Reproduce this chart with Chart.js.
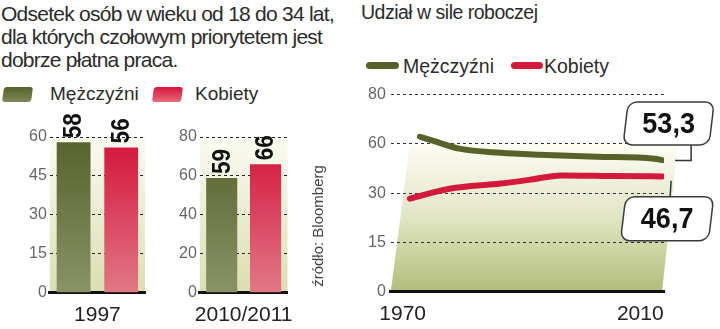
<!DOCTYPE html>
<html lang="pl">
<head>
<meta charset="utf-8">
<script src="https://cdn.jsdelivr.net/npm/chart.js@4.4.1/dist/chart.umd.min.js"></script>
<style>
  html, body { margin: 0; padding: 0; background: #fff; }
  #page { position: relative; width: 720px; height: 329px; overflow: hidden;
          font-family: "Liberation Sans", Arial, sans-serif; color: #2b2b2b; }
  .abs { position: absolute; white-space: nowrap; }
  #title { left: 1px; top: 2px; font-size: 21px; line-height: 23px; letter-spacing: -0.75px; }
  #header { left: 361px; top: 3px; font-size: 19.5px; line-height: 19.5px; letter-spacing: -0.5px; }
  .legend { font-size: 19px; line-height: 19px; }
  .swatch { position: absolute; width: 29px; height: 15px; border-radius: 3px; transform: skewX(-8deg); }
  .sw-men { background: linear-gradient(#56622a, #7d8757); }
  .sw-women { background: linear-gradient(#d8153c, #e56a7a); }
  .stroke { position: absolute; height: 7px; border-radius: 4px; }
  #source { left: 317px; top: 226px; font-size: 15px; line-height: 15px; color: #444;
            transform: translate(-50%, -50%) rotate(-90deg); }
  canvas { position: absolute; }
</style>
</head>
<body>
<div id="page">
  <div id="title" class="abs">Odsetek osób w wieku od 18 do 34 lat,<br>dla których czołowym priorytetem jest<br>dobrze płatna praca.</div>

  <div class="swatch sw-men" style="left:3px; top:87px;"></div>
  <div class="abs legend" style="left:50px; top:84px;">Mężczyźni</div>
  <div class="swatch sw-women" style="left:153px; top:87px;"></div>
  <div class="abs legend" style="left:195px; top:84px;">Kobiety</div>

  <div id="header" class="abs">Udział w sile roboczej</div>
  <div class="stroke" style="left:366px; top:62px; width:33px; background:#56622a;"></div>
  <div class="abs legend" style="left:403px; top:57px; font-size:19.5px;">Mężczyźni</div>
  <div class="stroke" style="left:511px; top:62px; width:32px; background:#d31a3d;"></div>
  <div class="abs legend" style="left:544px; top:57px; font-size:19.5px;">Kobiety</div>

  <canvas id="bars1997" width="160" height="236" style="left:0; top:105px;"></canvas>
  <canvas id="bars2011" width="160" height="236" style="left:150px; top:105px;"></canvas>
  <div id="source" class="abs">źródło: Bloomberg</div>
  <canvas id="share" width="365" height="261" style="left:355px; top:80px;"></canvas>
</div>

<script>
// Odsetek osób 18-34 lat: dobrze płatna praca jako priorytet
const seriesNames = ['Mężczyźni', 'Kobiety'];
const period1 = ['1997'];
const men1 = [58];
const women1 = [56];
const ticks1 = [0, 15, 30, 45, 60];
const period2 = ['2010/2011'];
const men2 = [59];
const women2 = [66];
const ticks2 = [0, 20, 40, 60, 80];

// Udział w sile roboczej (%)
const menYears = [1972.9, 1975.6, 1979.5, 1986.5, 1993, 2002.7, 2012.4, 2013.7];
const menShare = [62.9, 60.9, 58.1, 56.4, 55.6, 54.8, 54.0, 53.4];
const womenYears = [1971.2, 1977.9, 1986.5, 1991.3, 1996.7, 2005, 2013.7];
const womenShare = [37.8, 41.8, 43.9, 45.4, 47.2, 47.0, 46.8];
const lastYear = 2015.2;
const lastShare = [53.3, 46.7];
const shareTicks = [0, 20, 40, 60, 80];
const shareTickLabels = ['0', '15', '30', '60', '80'];
const yearTicks = [1970, 2010];

const FONT = '"Liberation Sans", Arial, sans-serif';
const MEN = '#56622a';
const WOMEN = '#d31a3d';

function vGrad(chart, top, bottom) {
  const a = chart.chartArea;
  if (!a) return top;
  const g = chart.ctx.createLinearGradient(0, a.top, 0, a.bottom);
  g.addColorStop(0, top);
  g.addColorStop(1, bottom);
  return g;
}

function fmt(v) {
  return v.toFixed(1).replace('.', ',');
}

// light panel behind the bars
const barPanel = {
  id: 'barPanel',
  beforeDraw(chart) {
    const a = chart.chartArea, ctx = chart.ctx;
    ctx.save();
    ctx.fillStyle = vGrad(chart, '#fbfbf2', '#d9dfb0');
    ctx.fillRect(a.left, a.top, a.right - a.left, a.bottom - a.top);
    ctx.restore();
  }
};

// rotated value above each bar
const barValues = {
  id: 'barValues',
  afterDraw(chart) {
    const ctx = chart.ctx;
    chart.data.datasets.forEach((ds, i) => {
      chart.getDatasetMeta(i).data.forEach((bar, j) => {
        ctx.save();
        ctx.translate(bar.x, bar.y - 4);
        ctx.rotate(-Math.PI / 2);
        ctx.scale(0.9, 1);
        ctx.font = 'bold 25px ' + FONT;
        ctx.textAlign = 'left';
        ctx.textBaseline = 'middle';
        ctx.fillStyle = '#111';
        ctx.fillText(String(ds.data[j]), 0, 1);
        ctx.restore();
      });
    });
  }
};

function barChart(id, labels, men, women, ticks) {
  return new Chart(document.getElementById(id), {
    type: 'bar',
    data: {
      labels: labels,
      datasets: [
        { label: seriesNames[0], data: men, backgroundColor: c => vGrad(c.chart, '#56612a', '#8a9368') },
        { label: seriesNames[1], data: women, backgroundColor: c => vGrad(c.chart, '#d4123a', '#e27884') }
      ]
    },
    options: {
      responsive: false,
      animation: false,
      layout: { padding: { left: 26, right: 15, top: 32, bottom: 3 } },
      datasets: { bar: { categoryPercentage: 1, barPercentage: 0.71 } },
      plugins: { legend: { display: false }, tooltip: { enabled: false } },
      scales: {
        x: {
          grid: { display: false, drawTicks: false },
          border: { color: '#111', width: 3 },
          ticks: { color: '#222', padding: 10, font: { size: 21, family: FONT } }
        },
        y: {
          min: 0,
          max: ticks[ticks.length - 1],
          z: 1,
          afterBuildTicks: s => { s.ticks = ticks.map(v => ({ value: v })); },
          grid: { color: '#222', drawTicks: false },
          border: { display: false, dash: [3, 3] },
          ticks: { color: '#666', padding: 3, font: { size: 16, family: FONT } }
        }
      }
    },
    plugins: [barPanel, barValues]
  });
}

barChart('bars1997', period1, men1, women1, ticks1);
barChart('bars2011', period2, men2, women2, ticks2);

// slanted panel under the lines, from the 60 line down to the base
const sharePanel = {
  id: 'sharePanel',
  beforeDraw(chart) {
    const a = chart.chartArea, ctx = chart.ctx;
    const top = chart.scales.y.getPixelForValue(60);
    const g = ctx.createLinearGradient(0, top, 0, a.bottom);
    g.addColorStop(0, '#fdfcf3');
    g.addColorStop(0.5, '#e1e5c3');
    g.addColorStop(1, '#b2bd79');
    ctx.save();
    ctx.beginPath();
    ctx.moveTo(a.left + 19, top);
    ctx.lineTo(a.right + 14, top);
    ctx.lineTo(a.right - 2, a.bottom);
    ctx.lineTo(a.left, a.bottom);
    ctx.closePath();
    ctx.fillStyle = g;
    ctx.fill();
    ctx.restore();
  }
};

function drawBox(ctx, cx, cy, w, h, text) {
  ctx.save();
  ctx.translate(cx, cy);
  ctx.transform(1, 0, -0.12, 1, 0, 0);
  ctx.beginPath();
  ctx.roundRect(-w / 2, -h / 2, w, h, 9);
  ctx.fillStyle = '#fff';
  ctx.fill();
  ctx.lineWidth = 1.5;
  ctx.strokeStyle = '#3a3a3a';
  ctx.stroke();
  ctx.restore();

  ctx.save();
  ctx.translate(cx, cy + 1);
  ctx.scale(0.9, 1);
  ctx.font = 'bold 30px ' + FONT;
  ctx.textAlign = 'center';
  ctx.textBaseline = 'middle';
  ctx.fillStyle = '#111';
  ctx.fillText(text, 0, 0);
  ctx.restore();
}

// value callouts tied to the end markers
const shareCallouts = {
  id: 'shareCallouts',
  afterDraw(chart) {
    const ctx = chart.ctx;
    const pts = chart.getDatasetMeta(2).data;
    const m = pts[0], w = pts[1];
    ctx.save();
    ctx.strokeStyle = '#333';
    ctx.lineWidth = 1.5;
    ctx.beginPath();
    ctx.moveTo(m.x + 4, m.y);
    ctx.lineTo(m.x + 20, m.y);
    ctx.lineTo(m.x + 20, m.y - 16);
    ctx.moveTo(w.x, w.y + 4);
    ctx.lineTo(w.x - 1, w.y + 20);
    ctx.stroke();
    ctx.restore();
    drawBox(ctx, m.x - 2.5, m.y - 37, 86, 43, fmt(lastShare[0]));
    drawBox(ctx, w.x - 4, w.y + 42, 88, 44, fmt(lastShare[1]));
  }
};

new Chart(document.getElementById('share'), {
  type: 'line',
  data: {
    datasets: [
      {
        label: seriesNames[0],
        data: menYears.map((x, i) => ({ x: x, y: menShare[i] })),
        borderColor: MEN,
        borderWidth: 6,
        borderCapStyle: 'round',
        cubicInterpolationMode: 'monotone',
        pointRadius: 0
      },
      {
        label: seriesNames[1],
        data: womenYears.map((x, i) => ({ x: x, y: womenShare[i] })),
        borderColor: WOMEN,
        borderWidth: 6,
        borderCapStyle: 'round',
        cubicInterpolationMode: 'monotone',
        pointRadius: 0
      },
      {
        label: String(lastYear),
        data: lastShare.map(v => ({ x: lastYear, y: v })),
        showLine: false,
        pointStyle: 'rect',
        pointRadius: 6,
        backgroundColor: '#111',
        borderWidth: 0,
        clip: false
      }
    ]
  },
  options: {
    responsive: false,
    animation: false,
    layout: { padding: { left: 8, right: 56, top: 13, bottom: 4 } },
    plugins: { legend: { display: false }, tooltip: { enabled: false } },
    scales: {
      x: {
        type: 'linear',
        min: 1968,
        max: 2014,
        afterBuildTicks: s => { s.ticks = yearTicks.map(v => ({ value: v })); },
        grid: { display: false, drawTicks: false },
        border: { color: '#111', width: 3 },
        ticks: { color: '#222', padding: 10, font: { size: 21, family: FONT }, callback: v => String(v) }
      },
      y: {
        min: 0,
        max: 80,
        afterBuildTicks: s => { s.ticks = shareTicks.map(v => ({ value: v })); },
        grid: { color: '#333', drawTicks: false },
        border: { display: false, dash: [3, 3] },
        ticks: { color: '#666', padding: 5, font: { size: 16, family: FONT },
                 callback: (v, i) => shareTickLabels[i] }
      }
    }
  },
  plugins: [sharePanel, shareCallouts]
});
</script>
</body>
</html>
